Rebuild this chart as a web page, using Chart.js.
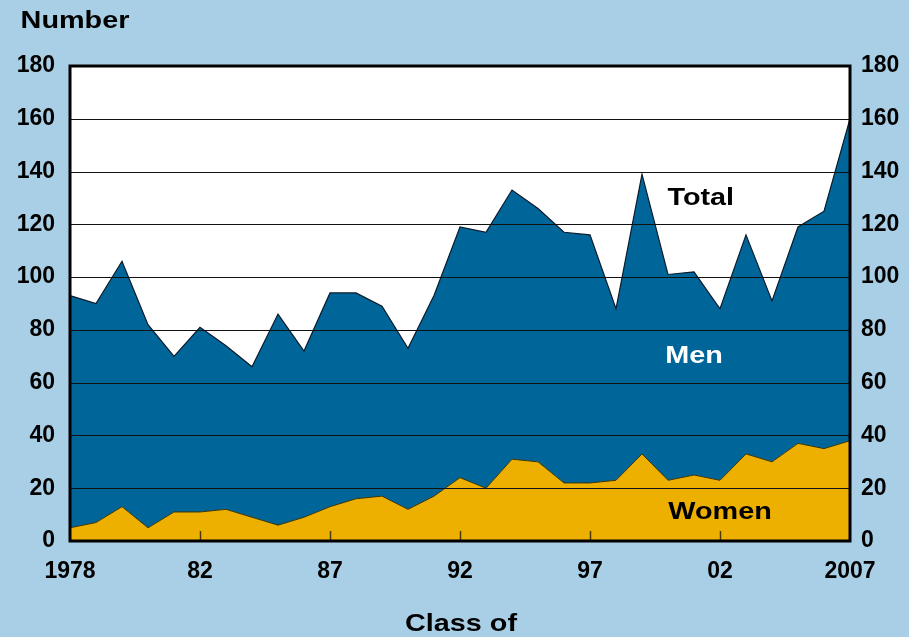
<!DOCTYPE html>
<html><head><meta charset="utf-8">
<script src="https://cdn.jsdelivr.net/npm/chart.js@4.4.1/dist/chart.umd.min.js"></script>
<style>
html,body{margin:0;padding:0;background:#A9CFE6;}
#wrap{width:909px;height:637px;position:relative;}
canvas{display:block;}
</style>
</head><body>
<div id="wrap"><canvas id="c" width="909" height="637"></canvas></div>
<script>
// ---- data ----
const years = [1977,1978,1979,1980,1981,1982,1983,1984,1985,1986,1987,1988,1989,1990,1991,1992,1993,1994,1995,1996,1997,1998,1999,2000,2001,2002,2003,2004,2005,2006,2007];
const xTickLabels = ['1978','','','','','82','','','','','87','','','','','92','','','','','97','','','','','02','','','','','2007'];
const totalValues = [93,90,106,82,70,81,74,66,86,72,94,94,89,73,93,119,117,133,126,117,116,88,139,101,102,88,116,91,119,125,160];
const womenValues = [5,7,13,5,11,11,12,9,6,9,13,16,17,12,17,24,20,31,30,22,22,23,33,23,25,23,33,30,37,35,38];
const yTicks = [0,20,40,60,80,100,120,140,160,180];
const minorTickIdx = [5,10,15,20,25];

const FONT = "'Liberation Sans', Arial, sans-serif";
const BG = '#A9CFE6';

function wideText(ctx, text, cx, cy, sx) {
  ctx.save();
  ctx.translate(cx, cy);
  ctx.scale(sx, 1);
  ctx.fillText(text, 0, 0);
  ctx.restore();
}

const overlay = {
  id: 'overlay',
  afterDatasetsDraw(chart) {
    const {ctx, chartArea: a, scales} = chart;
    const y = scales.y, x = scales.x;
    ctx.save();
    // gridlines over the fills
    ctx.strokeStyle = '#111';
    ctx.lineWidth = 1;
    yTicks.forEach(v => {
      if (v === 0 || v === 180) return;
      const py = Math.round(y.getPixelForValue(v)) + 0.5;
      ctx.beginPath(); ctx.moveTo(a.left, py); ctx.lineTo(a.right, py); ctx.stroke();
    });
    // small x ticks
    ctx.strokeStyle = '#4a3a00';
    ctx.lineWidth = 1.5;
    minorTickIdx.forEach(i => {
      const px = Math.round(x.getPixelForValue(i)) + 0.5;
      ctx.beginPath(); ctx.moveTo(px, a.bottom); ctx.lineTo(px, a.bottom - 10); ctx.stroke();
    });
    // frame
    ctx.strokeStyle = '#000';
    ctx.lineWidth = 3;
    ctx.strokeRect(a.left, a.top, a.right - a.left, a.bottom - a.top);
    // series labels
    ctx.font = 'bold 24px ' + FONT;
    ctx.textAlign = 'center';
    ctx.textBaseline = 'middle';
    ctx.fillStyle = '#000';
    wideText(ctx, 'Total', x.getPixelForValue(24.26), y.getPixelForValue(130), 1.2);
    ctx.fillStyle = '#fff';
    wideText(ctx, 'Men', x.getPixelForValue(24.0), y.getPixelForValue(70), 1.2);
    ctx.fillStyle = '#000';
    wideText(ctx, 'Women', x.getPixelForValue(25.0), y.getPixelForValue(11), 1.2);
    // axis titles
    ctx.font = 'bold 24px ' + FONT;
    wideText(ctx, 'Number', 75, 21, 1.2);
    wideText(ctx, 'Class of', 461, 624, 1.2);
    ctx.restore();
  }
};

const tickFont = {family: FONT, size: 23, weight: 'bold'};

new Chart(document.getElementById('c'), {
  type: 'line',
  data: {
    labels: years,
    datasets: [
      {
        label: 'Women',
        data: womenValues,
        fill: 'origin',
        backgroundColor: '#EEB000',
        borderColor: '#3d3300',
        borderWidth: 1,
        pointRadius: 0,
        tension: 0
      },
      {
        label: 'Total',
        data: totalValues,
        fill: '-1',
        backgroundColor: '#006699',
        borderColor: '#0a1a2a',
        borderWidth: 1.2,
        pointRadius: 0,
        tension: 0
      }
    ]
  },
  options: {
    responsive: false,
    animation: false,
    devicePixelRatio: 1,
    layout: {padding: {top: 66, left: 0, right: 0, bottom: 0}},
    plugins: {legend: {display: false}, tooltip: {enabled: false}},
    scales: {
      x: {
        type: 'category',
        offset: false,
        grid: {display: false},
        border: {display: false},
        ticks: {
          autoSkip: false, maxRotation: 0, minRotation: 0,
          color: '#000', font: tickFont, padding: 9,
          callback: (v, i) => xTickLabels[i]
        },
        afterFit(s) { s.height = 96; }
      },
      y: {
        position: 'left',
        min: 0, max: 180,
        grid: {display: false, drawTicks: false},
        border: {display: false},
        ticks: {stepSize: 20, color: '#000', font: tickFont, padding: 15},
        afterFit(s) { s.width = 70; }
      },
      y2: {
        position: 'right',
        min: 0, max: 180,
        grid: {display: false, drawTicks: false},
        border: {display: false},
        ticks: {stepSize: 20, color: '#000', font: tickFont, padding: 11},
        afterFit(s) { s.width = 59; }
      }
    }
  },
  plugins: [{
    id: 'bg',
    beforeDraw(chart) {
      const {ctx, chartArea: a} = chart;
      ctx.save();
      ctx.fillStyle = BG; ctx.fillRect(0, 0, chart.width, chart.height);
      ctx.fillStyle = '#fff'; ctx.fillRect(a.left, a.top, a.right - a.left, a.bottom - a.top);
      ctx.restore();
    }
  }, overlay]
});
</script>
</body></html>
